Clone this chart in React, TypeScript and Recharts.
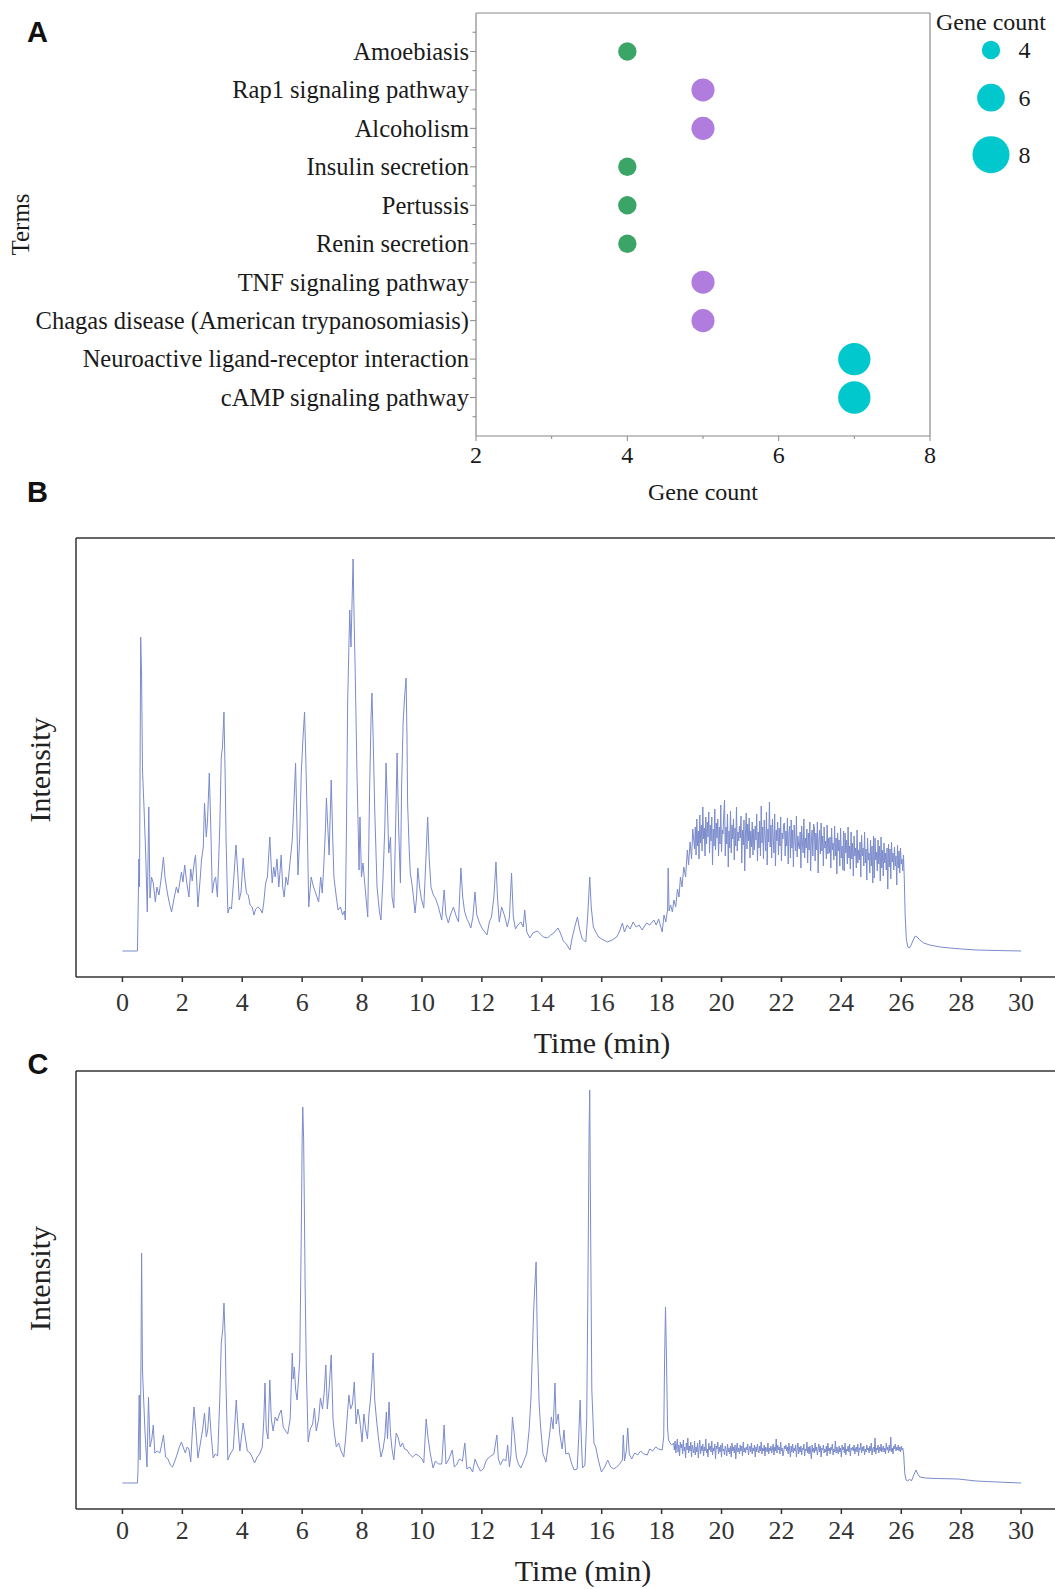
import React from 'react';
import { ScatterChart, Scatter, LineChart, Line, XAxis, YAxis, ReferenceLine } from 'recharts';

// ---- panel A: enrichment bubbles ----
const terms = [
  'Amoebiasis',
  'Rap1 signaling pathway',
  'Alcoholism',
  'Insulin secretion',
  'Pertussis',
  'Renin secretion',
  'TNF signaling pathway',
  'Chagas disease (American trypanosomiasis)',
  'Neuroactive ligand-receptor interaction',
  'cAMP signaling pathway',
];
const termCounts = [4, 5, 5, 4, 4, 4, 5, 5, 7, 7];
const legendCounts = [4, 6, 8];
const countTicks = [2, 3, 4, 5, 6, 7, 8];
const termTicks = [0.5, 1, 1.5, 2, 2.5, 3, 3.5, 4, 4.5, 5, 5.5, 6, 6.5, 7, 7.5, 8, 8.5, 9, 9.5, 10, 10.5];

// ---- panels B / C: chromatograms (time in min, intensity in arbitrary units) ----
const timeTicks = [0, 2, 4, 6, 8, 10, 12, 14, 16, 18, 20, 22, 24, 26, 28, 30];

const traceBPeaks: [number, number][] = [
  [0, 26], [0.5, 26], [0.52, 60], [0.55, 118], [0.57, 90], [0.61, 340], [0.64, 300], [0.67, 207], [0.72, 170], [0.78, 120],
  [0.83, 65], [0.88, 170], [0.92, 79], [0.97, 100], [1.03, 94], [1.1, 75], [1.15, 90], [1.22, 82], [1.3, 100], [1.37, 120],
  [1.42, 100], [1.5, 84], [1.58, 72], [1.64, 65], [1.72, 78], [1.8, 90], [1.86, 84], [1.97, 105], [2.02, 95], [2.08, 112],
  [2.14, 96], [2.22, 80], [2.28, 108], [2.33, 96], [2.39, 113], [2.44, 122], [2.52, 70], [2.6, 100], [2.64, 117], [2.7, 130],
  [2.74, 174], [2.8, 140], [2.84, 156], [2.9, 204], [2.95, 150], [3.0, 84], [3.06, 96], [3.11, 100], [3.17, 80], [3.25, 150],
  [3.3, 220], [3.34, 230], [3.39, 265], [3.43, 200], [3.46, 137], [3.52, 64], [3.58, 70], [3.64, 68], [3.72, 100], [3.79, 132],
  [3.84, 110], [3.9, 77], [3.96, 85], [4.03, 119], [4.08, 100], [4.14, 84], [4.2, 82], [4.26, 72], [4.33, 70], [4.39, 62],
  [4.45, 68], [4.52, 70], [4.6, 68], [4.67, 64], [4.72, 75], [4.78, 94], [4.84, 100], [4.88, 120], [4.92, 140], [4.96, 115],
  [5.0, 94], [5.05, 110], [5.1, 100], [5.16, 118], [5.22, 90], [5.26, 105], [5.3, 122], [5.35, 90], [5.4, 80], [5.46, 100],
  [5.52, 92], [5.58, 110], [5.63, 125], [5.67, 137], [5.72, 170], [5.78, 214], [5.82, 160], [5.86, 102], [5.92, 140], [5.97, 204],
  [6.03, 240], [6.08, 265], [6.12, 220], [6.16, 170], [6.22, 70], [6.3, 100], [6.38, 90], [6.45, 84], [6.55, 75], [6.62, 100],
  [6.67, 84], [6.72, 110], [6.78, 150], [6.81, 179], [6.86, 148], [6.9, 122], [6.97, 197], [7.02, 140], [7.06, 100], [7.14, 80],
  [7.2, 67], [7.28, 70], [7.35, 62], [7.41, 66], [7.44, 57], [7.48, 150], [7.52, 277], [7.56, 330], [7.59, 367], [7.63, 330],
  [7.67, 380], [7.7, 418], [7.74, 350], [7.77, 307], [7.83, 204], [7.9, 107], [7.93, 160], [7.98, 100], [8.03, 114], [8.1, 90],
  [8.19, 60], [8.25, 184], [8.3, 260], [8.33, 284], [8.37, 240], [8.42, 170], [8.5, 90], [8.58, 65], [8.63, 57], [8.7, 100],
  [8.76, 150], [8.8, 214], [8.85, 170], [8.89, 124], [8.95, 140], [9.0, 80], [9.06, 69], [9.12, 150], [9.17, 224], [9.22, 150],
  [9.28, 94], [9.32, 190], [9.37, 254], [9.42, 280], [9.47, 299], [9.5, 240], [9.52, 174], [9.57, 130], [9.61, 104], [9.68, 90],
  [9.77, 64], [9.82, 80], [9.86, 109], [9.92, 90], [9.98, 78], [10.06, 69], [10.12, 110], [10.19, 160], [10.24, 120], [10.3, 90],
  [10.38, 82], [10.46, 78], [10.55, 70], [10.66, 57], [10.74, 87], [10.8, 62], [10.88, 54], [10.95, 62], [11.05, 70], [11.15, 60],
  [11.22, 55], [11.3, 109], [11.36, 80], [11.42, 66], [11.5, 58], [11.57, 54], [11.63, 49], [11.7, 60], [11.77, 85], [11.83, 62],
  [11.92, 54], [12.02, 48], [12.1, 45], [12.17, 42], [12.25, 55], [12.32, 60], [12.4, 80], [12.47, 115], [12.52, 80], [12.58, 55],
  [12.66, 70], [12.75, 62], [12.85, 50], [12.92, 60], [12.99, 104], [13.05, 60], [13.12, 48], [13.2, 52], [13.3, 55], [13.38, 50],
  [13.43, 67], [13.5, 45], [13.6, 39], [13.7, 44], [13.85, 46], [13.95, 43], [14.05, 40], [14.19, 39], [14.3, 42], [14.4, 44],
  [14.54, 49], [14.62, 44], [14.72, 36], [14.82, 33], [14.94, 27], [15.02, 40], [15.1, 50], [15.19, 60], [15.26, 48], [15.35, 38],
  [15.47, 35], [15.53, 60], [15.6, 100], [15.65, 70], [15.72, 50], [15.8, 45], [15.9, 40], [16.0, 38], [16.19, 35], [16.35, 37],
  [16.5, 40], [16.6, 46], [16.69, 54], [16.76, 45], [16.85, 52], [16.95, 48], [17.05, 55], [17.15, 50], [17.25, 52], [17.35, 47],
  [17.41, 50], [17.5, 54], [17.6, 52], [17.74, 57], [17.82, 52], [17.9, 58], [18.02, 45], [18.08, 62], [18.14, 55], [18.2, 68],
  [18.22, 109], [18.25, 66], [18.3, 72], [18.36, 65], [18.41, 77], [18.47, 70], [18.53, 88], [18.58, 80], [18.63, 100], [18.68, 90],
  [18.74, 110], [18.8, 100], [18.86, 127], [18.9, 112], [18.95, 135], [19.0, 118], [19.04, 148],
];
// noisy plateau, one reading every 0.025 min from 19.100 (20 readings per row)
const traceBNoiseStart = 19.1;
const traceBNoise = [
  128, 150, 122, 158, 131, 146, 118, 162, 134, 152, 126, 170, 138, 149, 121, 160, 133, 155, 140, 165,
  124, 152, 136, 160, 112, 148, 131, 168, 127, 154, 139, 158, 121, 150, 133, 172, 125, 147, 143, 162,
  177, 121, 150, 133, 163, 110, 146, 129, 166, 124, 152, 138, 158, 117, 149, 131, 170, 126, 145, 136,
  151, 139, 161, 114, 147, 132, 157, 106, 143, 164, 128, 153, 136, 159, 119, 146, 130, 155, 122, 148,
  127, 151, 137, 163, 116, 145, 129, 156, 121, 171, 134, 150, 118, 157, 141, 126, 165, 112, 148, 135,
  175, 130, 152, 119, 158, 139, 124, 163, 111, 147, 136, 155, 122, 149, 131, 160, 116, 144, 138, 153,
  154, 121, 146, 131, 159, 113, 143, 151, 119, 157, 129, 147, 110, 152, 136, 126, 161, 120, 141, 131,
  128, 145, 109, 151, 134, 124, 158, 119, 139, 129, 148, 114, 144, 127, 155, 106, 137, 147, 121, 153,
  149, 116, 144, 127, 155, 104, 137, 147, 123, 154, 126, 141, 111, 150, 129, 136, 118, 152, 123, 139,
  124, 140, 109, 149, 127, 134, 117, 151, 121, 139, 103, 144, 126, 137, 111, 149, 119, 131, 107, 146,
  106, 144, 124, 137, 113, 150, 119, 131, 108, 145, 118, 134, 101, 141, 121, 129, 109, 147, 114, 127,
  117, 135, 100, 142, 121, 129, 111, 145, 114, 128, 97, 139, 117, 124, 104, 137, 111, 131, 94, 141,
  99, 139, 117, 125, 106, 137, 113, 131, 96, 140, 109, 127, 101, 134, 114, 124, 107, 129, 88, 133,
  110, 128, 98, 135, 115, 124, 107, 130, 111, 121, 92, 132, 109, 126, 104, 129, 113, 118, 106, 122,
];
const traceBTail: [number, number][] = [
  [26.1, 100], [26.13, 62], [26.17, 38], [26.22, 30], [26.27, 29], [26.33, 32], [26.4, 37], [26.47, 41], [26.53, 40],
  [26.62, 37], [26.75, 34], [26.95, 32], [27.3, 30], [27.8, 28.5], [28.5, 27], [29.2, 26.5], [30, 26],
];

const traceCPeaks: [number, number][] = [
  [0, 26], [0.5, 26], [0.52, 39], [0.56, 114], [0.59, 49], [0.62, 150], [0.64, 256], [0.67, 139], [0.7, 116], [0.75, 79],
  [0.82, 42], [0.87, 112], [0.92, 62], [0.98, 70], [1.03, 84], [1.08, 56], [1.16, 58], [1.25, 56], [1.32, 66], [1.37, 74],
  [1.44, 52], [1.52, 50], [1.6, 44], [1.67, 42], [1.75, 48], [1.83, 55], [1.9, 62], [1.97, 67], [2.05, 60], [2.1, 56],
  [2.16, 62], [2.22, 60], [2.28, 47], [2.33, 75], [2.39, 102], [2.45, 80], [2.52, 51], [2.6, 65], [2.68, 80], [2.74, 96],
  [2.8, 72], [2.85, 80], [2.9, 102], [2.96, 75], [3.03, 51], [3.1, 55], [3.18, 53], [3.25, 110], [3.3, 166], [3.35, 180],
  [3.39, 206], [3.43, 170], [3.46, 122], [3.52, 49], [3.6, 55], [3.7, 60], [3.8, 109], [3.86, 80], [3.92, 58], [4.03, 86],
  [4.1, 72], [4.17, 58], [4.26, 56], [4.33, 52], [4.41, 46], [4.5, 52], [4.58, 55], [4.67, 62], [4.72, 90], [4.76, 126],
  [4.8, 80], [4.86, 70], [4.92, 129], [4.97, 90], [5.03, 78], [5.1, 92], [5.17, 88], [5.24, 95], [5.3, 99], [5.37, 82],
  [5.45, 78], [5.52, 75], [5.6, 90], [5.67, 156], [5.7, 130], [5.74, 142], [5.78, 120], [5.83, 109], [5.88, 130], [5.92, 150],
  [5.97, 272], [6.0, 370], [6.02, 402], [6.05, 370], [6.07, 312], [6.1, 222], [6.14, 139], [6.2, 67], [6.27, 80], [6.35, 85],
  [6.41, 101], [6.47, 78], [6.55, 90], [6.61, 111], [6.68, 100], [6.74, 118], [6.79, 144], [6.84, 100], [6.9, 120], [6.97, 154],
  [7.03, 90], [7.08, 75], [7.14, 62], [7.22, 66], [7.3, 58], [7.39, 52], [7.45, 70], [7.5, 90], [7.56, 114], [7.62, 100],
  [7.68, 105], [7.74, 127], [7.8, 85], [7.86, 100], [7.92, 90], [8.0, 67], [8.06, 95], [8.12, 80], [8.18, 70], [8.23, 95],
  [8.28, 109], [8.33, 130], [8.37, 156], [8.42, 110], [8.48, 90], [8.55, 70], [8.63, 52], [8.7, 60], [8.76, 72], [8.81, 97],
  [8.85, 70], [8.9, 107], [8.95, 75], [9.0, 60], [9.06, 49], [9.14, 76], [9.2, 72], [9.28, 62], [9.35, 66], [9.42, 60],
  [9.5, 59], [9.58, 55], [9.69, 52], [9.8, 55], [9.9, 53], [10.0, 50], [10.06, 46], [10.14, 90], [10.2, 72], [10.28, 55],
  [10.37, 41], [10.45, 48], [10.55, 45], [10.66, 45], [10.74, 84], [10.8, 45], [10.9, 50], [11.01, 59], [11.08, 42], [11.15, 44],
  [11.25, 50], [11.35, 48], [11.43, 66], [11.5, 40], [11.6, 42], [11.69, 37], [11.77, 50], [11.85, 44], [11.95, 38], [12.05, 40],
  [12.14, 48], [12.21, 51], [12.3, 53], [12.4, 55], [12.5, 74], [12.55, 50], [12.62, 44], [12.72, 50], [12.8, 48], [12.86, 64],
  [12.92, 42], [12.97, 55], [13.02, 92], [13.08, 75], [13.15, 52], [13.22, 45], [13.3, 41], [13.4, 48], [13.5, 56], [13.58, 80],
  [13.64, 112], [13.69, 160], [13.72, 192], [13.76, 219], [13.81, 247], [13.85, 172], [13.91, 106], [13.96, 82], [14.04, 55], [14.14, 47],
  [14.22, 65], [14.28, 80], [14.32, 92], [14.38, 80], [14.44, 126], [14.48, 85], [14.55, 95], [14.6, 75], [14.68, 60], [14.74, 79],
  [14.8, 55], [14.9, 56], [15.0, 45], [15.08, 39], [15.18, 40], [15.23, 70], [15.28, 109], [15.32, 70], [15.36, 41], [15.44, 44],
  [15.5, 90], [15.54, 226], [15.58, 380], [15.6, 419], [15.63, 282], [15.67, 119], [15.74, 66], [15.8, 62], [15.88, 50], [15.99, 37],
  [16.1, 42], [16.2, 49], [16.3, 42], [16.4, 40], [16.5, 42], [16.6, 45], [16.69, 49], [16.72, 74], [16.76, 48], [16.82, 58],
  [16.87, 81], [16.92, 55], [17.0, 50], [17.1, 56], [17.2, 54], [17.3, 58], [17.4, 55], [17.52, 54], [17.6, 60], [17.7, 58],
  [17.8, 62], [17.9, 60], [18.02, 59], [18.07, 72], [18.1, 150], [18.13, 202], [18.16, 156], [18.2, 80], [18.23, 69], [18.28, 66],
  [18.34, 64],
];
// noisy plateau, one reading every 0.025 min from 18.400 (20 readings per row)
const traceCNoiseStart = 18.4;
const traceCNoise = [
  66, 59, 68, 56, 63, 70, 57, 64, 53, 67, 61, 65, 55, 69, 58, 62, 51, 66, 59, 71,
  56, 63, 58, 67, 52, 64, 60, 56, 68, 54, 62, 57, 66, 51, 61, 69, 55, 63, 58, 65,
  53, 62, 58, 70, 56, 60, 52, 66, 59, 63, 57, 68, 54, 61, 58, 65, 50, 63, 60, 67,
  55, 62, 57, 64, 52, 66, 58, 60, 54, 63, 59, 53, 65, 57, 61, 55, 63, 52, 66, 58,
  62, 56, 64, 50, 60, 66, 57, 61, 55, 64, 58, 63, 53, 67, 57, 61, 56, 62, 59, 65,
  54, 60, 63, 57, 66, 55, 61, 58, 64, 52, 62, 57, 65, 59, 56, 63, 58, 67, 55, 61,
  58, 64, 53, 62, 60, 57, 66, 55, 61, 58, 63, 56, 60, 65, 54, 62, 58, 70, 56, 64,
  59, 62, 55, 67, 58, 61, 53, 57, 63, 60, 64, 58, 62, 55, 66, 59, 52, 63, 57, 65,
  56, 61, 58, 64, 52, 60, 66, 55, 62, 57, 63, 54, 61, 59, 65, 53, 60, 58, 67, 56,
  62, 55, 63, 58, 50, 64, 57, 61, 56, 66, 58, 62, 54, 60, 65, 57, 63, 52, 61, 59,
  64, 56, 60, 57, 63, 53, 66, 58, 61, 55, 62, 59, 65, 54, 60, 57, 68, 56, 62, 58,
  55, 63, 57, 61, 52, 64, 59, 62, 56, 66, 54, 60, 58, 63, 57, 65, 53, 61, 59, 62,
  58, 64, 55, 60, 62, 57, 65, 53, 61, 59, 66, 56, 62, 58, 63, 54, 60, 57, 64, 59,
  61, 56, 63, 58, 66, 54, 60, 62, 57, 71, 55, 61, 59, 64, 56, 62, 58, 65, 57, 60,
  63, 57, 61, 55, 66, 59, 62, 56, 64, 58, 72, 57, 61, 55, 63, 60, 65, 58, 62, 59,
  64, 58, 62, 57, 63, 59, 61,
];
const traceCTail: [number, number][] = [
  [26.08, 55], [26.12, 35], [26.16, 29], [26.22, 28], [26.28, 30], [26.34, 28], [26.42, 34], [26.49, 39], [26.55, 35],
  [26.62, 32], [26.8, 31], [27.2, 30.5], [27.9, 30], [28.5, 28], [29.2, 27], [30, 26],
];
const NOISE_STEP = 0.025;

const SERIF = '"Liberation Serif", "Times New Roman", serif';
const SANS = '"Liberation Sans", Arial, sans-serif';
const TRACE = '#7b8bcc';
const FRAME_A = '#888';
const FRAME = '#333';
const countColors: Record<number, string> = { 4: '#3aa566', 5: '#b07cde', 7: '#00c8cc' };
const LEGEND_COLOR = '#00c8cc';

const bubbleRadius = (count: number) => 9.2 + 2.33 * (count - 4);

const termData = terms.map((term, i) => ({ term, pos: i + 1, count: termCounts[i] }));

const toPoints = (pairs: [number, number][]) => pairs.map(([t, v]) => ({ t, v }));
const fromGrid = (start: number, values: number[]) =>
  values.map((v, i) => ({ t: Math.round((start + i * NOISE_STEP) * 1000) / 1000, v }));

const traceB = [...toPoints(traceBPeaks), ...fromGrid(traceBNoiseStart, traceBNoise), ...toPoints(traceBTail)];
const traceC = [...toPoints(traceCPeaks), ...fromGrid(traceCNoiseStart, traceCNoise), ...toPoints(traceCTail)];

const TermTick = (props: any) => {
  const { x, y, payload } = props;
  const v = payload.value as number;
  const axisX = x + 7;
  const major = Number.isInteger(v);
  return (
    <g>
      <line x1={axisX - (major ? 6 : 3.5)} x2={axisX} y1={y} y2={y} stroke={FRAME_A} strokeWidth={1} />
      {major && (
        <text x={x} y={y} dy="0.34em" textAnchor="end" fontSize={24.5} fontFamily={SERIF} fill="#1a1a1a">
          {terms[v - 1]}
        </text>
      )}
    </g>
  );
};

const CountTick = (props: any) => {
  const { x, y, payload } = props;
  const v = payload.value as number;
  const axisY = y - 5;
  const major = v % 2 === 0;
  return (
    <g>
      <line x1={x} x2={x} y1={axisY} y2={axisY + (major ? 5 : 3)} stroke={FRAME_A} strokeWidth={1} />
      {major && (
        <text x={x} y={axisY + 27} textAnchor="middle" fontSize={24} fontFamily={SERIF} fill="#1a1a1a">
          {v}
        </text>
      )}
    </g>
  );
};

const Bubble = (props: any) => {
  const { cx, cy, payload } = props;
  return <circle cx={cx} cy={cy} r={bubbleRadius(payload.count)} fill={countColors[payload.count]} />;
};

const legendRowY = [50, 97.7, 154.7];

const GeneCountLegend = () => (
  <svg width={125} height={180} style={{ position: 'absolute', left: 930, top: 0 }}>
    <text x={61} y={30} textAnchor="middle" fontSize={24} fontFamily={SERIF} fill="#1a1a1a">
      Gene count
    </text>
    {legendCounts.map((c, i) => (
      <g key={c}>
        <circle cx={61} cy={legendRowY[i]} r={bubbleRadius(c)} fill={LEGEND_COLOR} />
        <text x={94.5} y={legendRowY[i] + 8} textAnchor="middle" fontSize={24} fontFamily={SERIF} fill="#1a1a1a">
          {c}
        </text>
      </g>
    ))}
  </svg>
);

const PanelLetter = ({ letter, x, y }: { letter: string; x: number; y: number }) => (
  <div
    style={{
      position: 'absolute',
      left: x,
      top: y,
      transform: 'translate(-50%, -50%)',
      fontFamily: SANS,
      fontWeight: 700,
      fontSize: 29,
      lineHeight: 1,
      color: '#111',
    }}
  >
    {letter}
  </div>
);

const Chromatogram = ({
  data,
  top,
  height,
  marginTop,
  marginBottom,
  yMax,
  tickMargin,
  titleOffset,
  titleDx,
  labelDy,
}: {
  data: { t: number; v: number }[];
  top: number;
  height: number;
  marginTop: number;
  marginBottom: number;
  yMax: number;
  tickMargin: number;
  titleOffset: number;
  titleDx: number;
  labelDy: number;
}) => (
  <div style={{ position: 'absolute', left: 0, top }}>
    <LineChart width={1055} height={height} data={data} margin={{ top: marginTop, right: -11, bottom: marginBottom, left: 0 }}>
      <XAxis
        type="number"
        dataKey="t"
        domain={[-1.55, 31.5]}
        ticks={timeTicks}
        interval={0}
        height={30}
        tickSize={5}
        tickMargin={tickMargin}
        axisLine={{ stroke: FRAME, strokeWidth: 1.5 }}
        tickLine={{ stroke: FRAME, strokeWidth: 1.5 }}
        tick={{ fontSize: 26, fontFamily: SERIF, fill: '#333' }}
        label={{ value: 'Time (min)', position: 'bottom', offset: titleOffset, dx: titleDx, fontSize: 30, fontFamily: SERIF, fill: '#222' }}
      />
      <YAxis
        type="number"
        domain={[0, yMax]}
        width={76}
        tick={false}
        tickLine={false}
        axisLine={{ stroke: FRAME, strokeWidth: 1.5 }}
        label={{ value: 'Intensity', angle: -90, position: 'center', dx: 1, dy: labelDy, fontSize: 30, fontFamily: SERIF, fill: '#222' }}
      />
      <ReferenceLine y={yMax} stroke={FRAME} strokeWidth={1.5} />
      <Line type="linear" dataKey="v" stroke={TRACE} strokeWidth={1} dot={false} isAnimationActive={false} />
    </LineChart>
  </div>
);

export default function App() {
  return (
    <div
      style={{
        position: 'fixed',
        left: 0,
        top: 0,
        width: 1055,
        height: 1589,
        overflow: 'hidden',
        background: '#fff',
        fontFamily: SERIF,
      }}
    >
      <div style={{ position: 'absolute', left: 0, top: 0 }}>
        <ScatterChart width={1055} height={520} margin={{ top: 13, right: 125, bottom: 54, left: 0 }}>
          <XAxis
            type="number"
            dataKey="count"
            domain={[2, 8]}
            ticks={countTicks}
            interval={0}
            height={30}
            tickSize={5}
            tickMargin={0}
            tickLine={false}
            axisLine={{ stroke: FRAME_A, strokeWidth: 1.2 }}
            tick={(p: any) => <CountTick {...p} />}
            label={{ value: 'Gene count', position: 'bottom', offset: 17, fontSize: 24, fontFamily: SERIF, fill: '#1a1a1a' }}
          />
          <YAxis
            type="number"
            dataKey="pos"
            domain={[0, 11]}
            reversed
            ticks={termTicks}
            interval={0}
            width={476}
            tickSize={6}
            tickMargin={1}
            tickLine={false}
            axisLine={{ stroke: FRAME_A, strokeWidth: 1.2 }}
            tick={(p: any) => <TermTick {...p} />}
            label={{ value: 'Terms', angle: -90, position: 'center', dx: -218, fontSize: 25, fontFamily: SERIF, fill: '#1a1a1a' }}
          />
          <ReferenceLine y={0} stroke={FRAME_A} strokeWidth={1.2} />
          <ReferenceLine x={8} stroke={FRAME_A} strokeWidth={1.2} />
          <Scatter data={termData} shape={(p: any) => <Bubble {...p} />} isAnimationActive={false} />
        </ScatterChart>
      </div>
      <GeneCountLegend />

      <Chromatogram
        data={traceB}
        top={520}
        height={540}
        marginTop={18}
        marginBottom={53}
        yMax={439}
        tickMargin={11}
        titleOffset={25}
        titleDx={31}
        labelDy={12.5}
      />
      <Chromatogram
        data={traceC}
        top={1050}
        height={539}
        marginTop={21}
        marginBottom={50}
        yMax={438}
        tickMargin={7}
        titleOffset={21}
        titleDx={12}
        labelDy={-11.5}
      />

      <PanelLetter letter="A" x={37.5} y={32.2} />
      <PanelLetter letter="B" x={37.5} y={491.5} />
      <PanelLetter letter="C" x={38} y={1063.7} />
    </div>
  );
}
